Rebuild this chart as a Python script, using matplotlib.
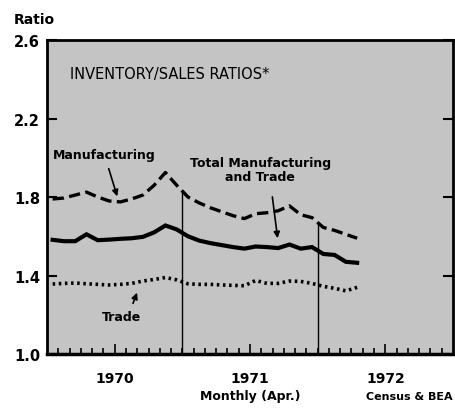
import matplotlib
matplotlib.use("Agg")
import matplotlib.pyplot as plt
import numpy as np

# monthly data, Jan 1970 .. Apr 1972
months = np.arange(28)
manufacturing = [1.79, 1.795, 1.81, 1.825, 1.80, 1.78, 1.775, 1.79, 1.81, 1.86,
                 1.925, 1.86, 1.80, 1.77, 1.745, 1.725, 1.705, 1.69, 1.715, 1.72,
                 1.73, 1.755, 1.71, 1.695, 1.645, 1.63, 1.61, 1.59]
total = [1.582, 1.575, 1.575, 1.61, 1.58, 1.583, 1.587, 1.59, 1.597, 1.62,
         1.655, 1.635, 1.60, 1.578, 1.565, 1.555, 1.545, 1.537, 1.548, 1.545,
         1.54, 1.558, 1.537, 1.545, 1.51, 1.505, 1.47, 1.465]
trade = [1.357, 1.36, 1.362, 1.358, 1.355, 1.352, 1.355, 1.36, 1.372, 1.38,
         1.39, 1.378, 1.358, 1.355, 1.355, 1.352, 1.35, 1.348, 1.375, 1.36,
         1.36, 1.372, 1.37, 1.36, 1.345, 1.335, 1.322, 1.34]
years = ["1970", "1971", "1972"]
yticks = [1.0, 1.4, 1.8, 2.2, 2.6]

fig = plt.figure(figsize=(4.55, 4.1), dpi=100)
ax = fig.add_axes([0.1033, 0.134, 0.8923, 0.766])
ax.set_facecolor("#c4c4c4")

x = months + 0.5
ax.plot(x, manufacturing, color="black", lw=2.4, linestyle=(0, (3.4, 1.6)))
ax.plot(x, total, color="black", lw=3.0, solid_joinstyle="miter")
ax.plot(x, trade, color="black", lw=2.6, linestyle=(0, (0.7, 1.0)))

# year boundary lines, up to the manufacturing line
for b in [12, 24]:
    ax.plot([b, b], [1.0, np.interp(b, x, manufacturing)], color="black", lw=1.0)

ax.set_xlim(0, 36)
ax.set_ylim(1.0, 2.6)
ax.set_xticks([6, 18, 30])
ax.set_xticklabels(years, fontsize=10, fontweight="bold")
ax.set_xticks(np.arange(1, 36), minor=True)
ax.set_yticks(yticks)
ax.set_yticklabels(["%.1f" % v for v in yticks], fontsize=10.5, fontweight="bold")
ax.tick_params(axis="x", which="major", direction="in", length=7, width=1.2, pad=12)
ax.tick_params(axis="x", which="minor", direction="in", length=4, width=1.2)
ax.tick_params(axis="y", which="major", direction="in", length=7, width=1.5,
               right=True, pad=5)
for s in ax.spines.values():
    s.set_linewidth(2.0)
ax.spines["bottom"].set_linewidth(2.5)

ax.text(2.04, 2.427, "INVENTORY/SALES RATIOS*", fontsize=10.5,
        va="center", ha="left")
ax.text(5.05, 2.019, "Manufacturing", fontsize=9,
        fontweight="bold", ha="center", va="center")
ax.text(18.9, 1.938, "Total Manufacturing\nand Trade", fontsize=9,
        fontweight="bold", ha="center", va="center", linespacing=1.1)
ax.text(6.65, 1.189, "Trade", fontsize=9,
        fontweight="bold", ha="center", va="center")

arrow = dict(arrowstyle="-|>", color="black", lw=1.2, mutation_scale=9)
ax.annotate("", xy=(6.3, 1.79), xytext=(5.4, 1.958), arrowprops=arrow)
ax.annotate("", xy=(20.48, 1.576), xytext=(19.95, 1.815), arrowprops=arrow)
ax.annotate("", xy=(8.07, 1.326), xytext=(7.54, 1.245), arrowprops=arrow)

fig.text(0.031, 0.951, "Ratio", fontsize=10, fontweight="bold", va="center")
fig.text(0.549, 0.032, "Monthly (Apr.)", fontsize=9, fontweight="bold",
         ha="center", va="center")
fig.text(0.9956, 0.032, "Census & BEA", fontsize=8, fontweight="bold",
         ha="right", va="center")

fig.savefig("out.png", dpi=100)
